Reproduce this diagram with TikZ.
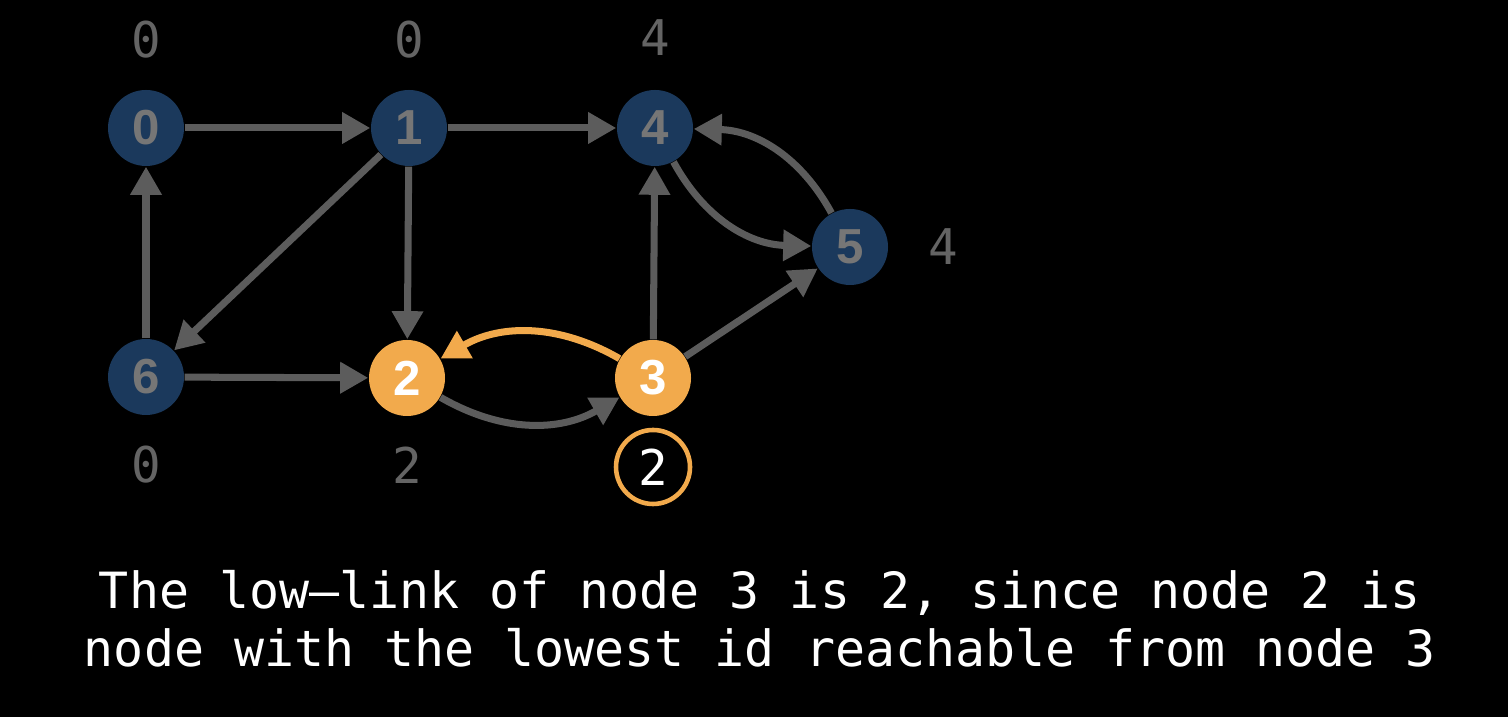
\documentclass[tikz,border=0pt]{standalone}
\usepackage{fontspec}
\newfontfamily\vertexfont{Liberation Sans}
\newfontfamily\monofont{DejaVu Sans Mono}
\usetikzlibrary{arrows.meta}
\definecolor{nodeblue}{RGB}{27,57,92}
\definecolor{nodegray}{RGB}{118,118,118}
\definecolor{edgegray}{RGB}{92,92,92}
\definecolor{labelgray}{RGB}{100,100,100}
\definecolor{loworange}{RGB}{242,170,76}
\tikzset{
%Define standard arrow tip
>={Triangle[length=8pt,width=8.5pt]},
%Define styles for vertices, edges and labels
vertex/.style={circle, fill=nodeblue, text=nodegray, minimum size=0.76cm, inner sep=0pt,
  font=\vertexfont\bfseries\fontsize{14}{14}\selectfont},
visited/.style={vertex, fill=loworange, text=white},
edge/.style={->, draw=edgegray, line width=2pt},
active edge/.style={edge, draw=loworange},
lowlink/.style={text=labelgray, inner sep=0pt, font=\monofont\fontsize{14}{14}\selectfont},
current/.style={lowlink, text=white, circle, draw=loworange, line width=1.3pt, minimum size=0.74cm},
caption/.style={text=white, align=center, font=\monofont\fontsize{14.2}{16.5}\selectfont},
}
\begin{document}
\begin{tikzpicture}
    % Background and frame
    \useasboundingbox (0,0) rectangle (15.08,7.17);
    \fill[black] (0,0) rectangle (15.08,7.17);

    % Vertices
    \node[vertex] (v0) at (1.46,5.89) {0};
    \node[vertex] (v1) at (4.09,5.89) {1};
    \node[vertex] (v4) at (6.55,5.89) {4};
    \node[vertex] (v5) at (8.50,4.70) {5};
    \node[vertex] (v6) at (1.46,3.40) {6};
    \node[visited] (v2) at (4.07,3.39) {2};
    \node[visited] (v3) at (6.53,3.39) {3};

    % Low-link values
    \node[lowlink] (l0) at (1.46,6.77) {0};
    \node[lowlink] (l1) at (4.09,6.77) {0};
    \node[lowlink] (l4) at (6.55,6.79) {4};
    \node[lowlink] (l5) at (9.43,4.70) {4};
    \node[lowlink] (l6) at (1.46,2.52) {0};
    \node[lowlink] (l2) at (4.07,2.52) {2};
    \node[current] (l3) at (6.53,2.50) {2};

    % Edges
    \draw[edge] (v0) -- (v1);
    \draw[edge] (v1) -- (v4);
    \draw[edge] (v6) -- (v0);
    \draw[edge] (v1) -- (v6);
    \draw[edge] (v1) -- (v2);
    \draw[edge] (v6) -- (v2);
    \draw[edge] (v3) -- (v4);
    \draw[edge] (v3) -- (v5);
    \draw[edge] (v4) to[bend right=30] (v5);
    \draw[edge] (v5) to[bend right=30] (v4);
    \draw[edge] (v2) to[bend right=30] (v3);
    \draw[active edge] (v3) to[bend right=30] (v2);

    % Caption
    \node[caption] (text) at (7.60,0.98)
    {The low–link of node 3 is 2, since node 2 is\\node with the lowest id reachable from node 3};
\end{tikzpicture}
\end{document}
